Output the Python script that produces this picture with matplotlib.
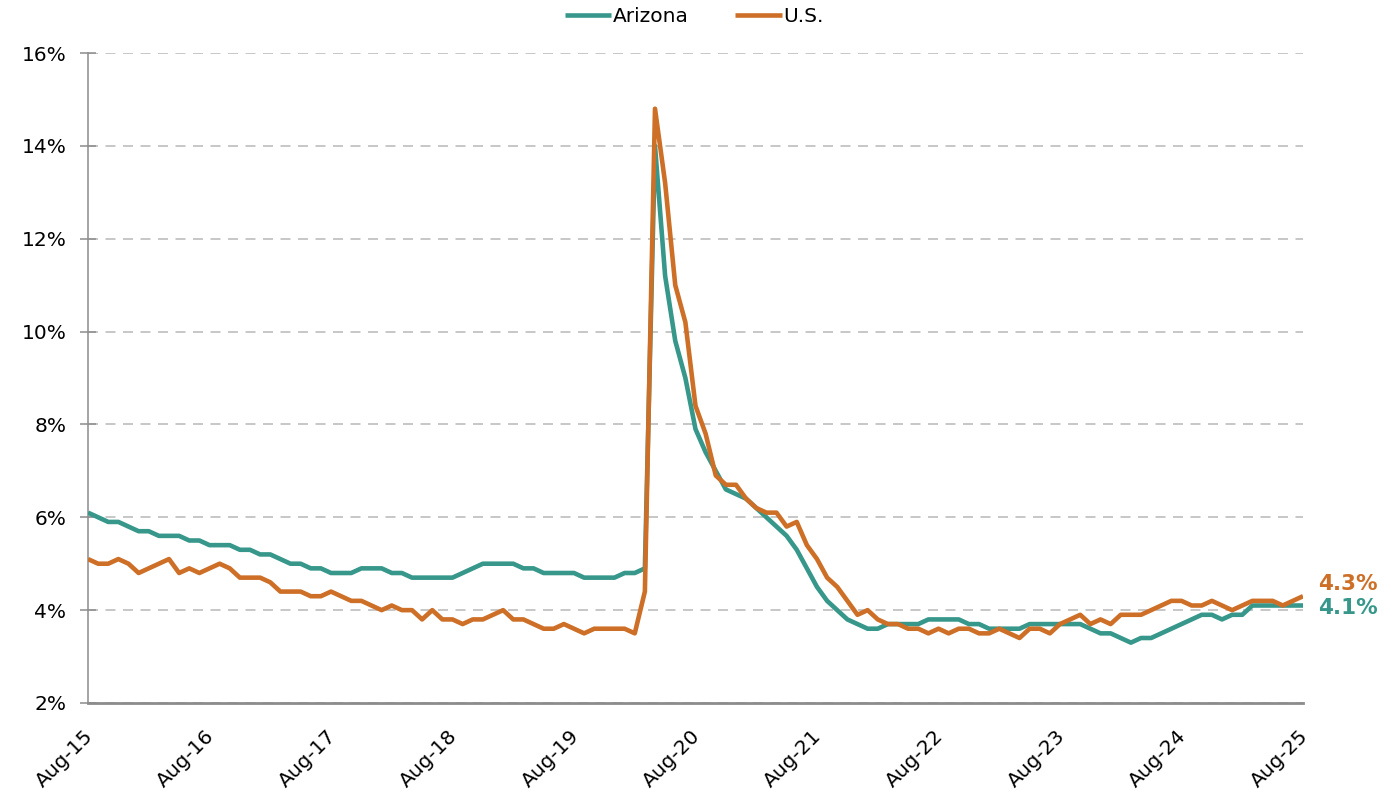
import numpy as np
import pandas as pd
import matplotlib
matplotlib.use("Agg")
import matplotlib.pyplot as plt
import matplotlib.transforms as mtransforms

# font
plt.rcParams["font.family"] = "DejaVu Sans"

# data (monthly, Aug-15 .. Aug-25)
months = pd.date_range("2015-08-01", "2025-08-01", freq="MS")

arizona = [
    6.1, 6.0, 5.9, 5.9, 5.8,
    5.7, 5.7, 5.6, 5.6, 5.6, 5.5, 5.5, 5.4, 5.4, 5.4, 5.3, 5.3,
    5.2, 5.2, 5.1, 5.0, 5.0, 4.9, 4.9, 4.8, 4.8, 4.8, 4.9, 4.9,
    4.9, 4.8, 4.8, 4.7, 4.7, 4.7, 4.7, 4.7, 4.8, 4.9, 5.0, 5.0,
    5.0, 5.0, 4.9, 4.9, 4.8, 4.8, 4.8, 4.8, 4.7, 4.7, 4.7, 4.7,
    4.8, 4.8, 4.9, 14.0, 11.2, 9.8, 9.0, 7.9, 7.4, 7.0, 6.6, 6.5,
    6.4, 6.2, 6.0, 5.8, 5.6, 5.3, 4.9, 4.5, 4.2, 4.0, 3.8, 3.7,
    3.6, 3.6, 3.7, 3.7, 3.7, 3.7, 3.8, 3.8, 3.8, 3.8, 3.7, 3.7,
    3.6, 3.6, 3.6, 3.6, 3.7, 3.7, 3.7, 3.7, 3.7, 3.7, 3.6, 3.5,
    3.5, 3.4, 3.3, 3.4, 3.4, 3.5, 3.6, 3.7, 3.8, 3.9, 3.9, 3.8,
    3.9, 3.9, 4.1, 4.1, 4.1, 4.1, 4.1, 4.1,
]

us = [
    5.1, 5.0, 5.0, 5.1, 5.0,
    4.8, 4.9, 5.0, 5.1, 4.8, 4.9, 4.8, 4.9, 5.0, 4.9, 4.7, 4.7,
    4.7, 4.6, 4.4, 4.4, 4.4, 4.3, 4.3, 4.4, 4.3, 4.2, 4.2, 4.1,
    4.0, 4.1, 4.0, 4.0, 3.8, 4.0, 3.8, 3.8, 3.7, 3.8, 3.8, 3.9,
    4.0, 3.8, 3.8, 3.7, 3.6, 3.6, 3.7, 3.6, 3.5, 3.6, 3.6, 3.6,
    3.6, 3.5, 4.4, 14.8, 13.2, 11.0, 10.2, 8.4, 7.8, 6.9, 6.7, 6.7,
    6.4, 6.2, 6.1, 6.1, 5.8, 5.9, 5.4, 5.1, 4.7, 4.5, 4.2, 3.9,
    4.0, 3.8, 3.7, 3.7, 3.6, 3.6, 3.5, 3.6, 3.5, 3.6, 3.6, 3.5,
    3.5, 3.6, 3.5, 3.4, 3.6, 3.6, 3.5, 3.7, 3.8, 3.9, 3.7, 3.8,
    3.7, 3.9, 3.9, 3.9, 4.0, 4.1, 4.2, 4.2, 4.1, 4.1, 4.2, 4.1,
    4.0, 4.1, 4.2, 4.2, 4.2, 4.1, 4.2, 4.3,
]

tick_labels = ["Aug-15", "Aug-16", "Aug-17", "Aug-18", "Aug-19", "Aug-20",
               "Aug-21", "Aug-22", "Aug-23", "Aug-24", "Aug-25"]
y_ticks = [2, 4, 6, 8, 10, 12, 14, 16]

# colours
teal = "#36978A"
orange = "#CD6F27"
grid_col = "#BDBDBD"
axis_col = "#8C8C8C"

fig = plt.figure(figsize=(13.89, 7.92), dpi=100)
ax = fig.add_axes([88 / 1389, 1 - 703 / 792, (1303 - 88) / 1389, (703 - 53) / 792])

x = np.arange(len(months))
ax.plot(x, arizona, color=teal, lw=3.3, label="Arizona",
        solid_joinstyle="round", solid_capstyle="butt", zorder=3)
ax.plot(x, us, color=orange, lw=3.3, label="U.S.",
        solid_joinstyle="round", solid_capstyle="butt", zorder=4)

# range
ax.set_xlim(0, len(months) - 1)
ax.set_ylim(2, 16)

# y axis
ax.set_yticks(y_ticks)
ax.set_yticklabels([f"{v}%" for v in y_ticks], fontsize=14.5)
ax.tick_params(axis="y", direction="inout", length=11, width=1.1,
               color=axis_col, pad=10)
ax.yaxis.grid(True, linestyle=(0, (6, 4.5)), color=grid_col, lw=1.2)
ax.set_axisbelow(True)

# x axis (rotated labels, end of text under the tick)
ax.set_xticks(x[::12])
ax.set_xticklabels(tick_labels, fontsize=14.5, rotation=45,
                   ha="right", va="top", rotation_mode="anchor")
ax.tick_params(axis="x", length=0, pad=17)
offset = mtransforms.ScaledTranslation(-5 / 100, 0, fig.dpi_scale_trans)
for lab in ax.get_xticklabels():
    lab.set_transform(lab.get_transform() + offset)

# spines
for s in ["top", "right"]:
    ax.spines[s].set_visible(False)
ax.spines["left"].set_color(axis_col)
ax.spines["left"].set_linewidth(1.1)
ax.spines["bottom"].set_color(axis_col)
ax.spines["bottom"].set_linewidth(2.0)

# end labels
ax.annotate(f"{us[-1]:.1f}%", xy=(x[-1], us[-1]), xytext=(15, 12),
            textcoords="offset pixels", ha="left", va="center",
            fontsize=15.5, fontweight="bold", color=orange, annotation_clip=False)
ax.annotate(f"{arizona[-1]:.1f}%", xy=(x[-1], arizona[-1]), xytext=(15, -3),
            textcoords="offset pixels", ha="left", va="center",
            fontsize=15.5, fontweight="bold", color=teal, annotation_clip=False)

# legend
fig.legend(loc="center", bbox_to_anchor=(0.5, 1 - 17 / 792), ncol=2,
           frameon=False, fontsize=14.5, handlelength=2.3, handletextpad=0.1,
           columnspacing=2.3)

fig.savefig("out.png", dpi=100)
